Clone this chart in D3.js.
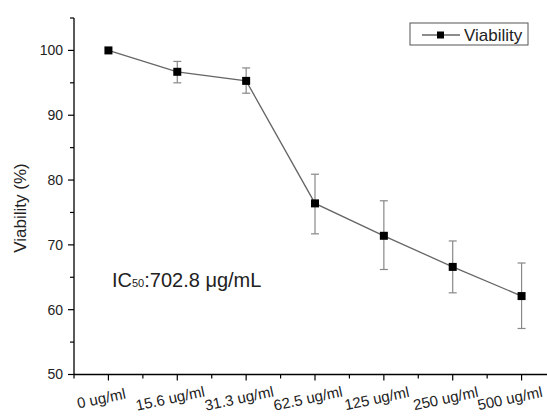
<!DOCTYPE html>
<html><head><meta charset="utf-8">
<script src="https://cdn.jsdelivr.net/npm/d3@7"></script>
<style>body{margin:0;background:#fff;}svg{display:block;font-family:"Liberation Sans",Arial,sans-serif;}</style>
</head><body>
<svg id="c" width="547" height="417"></svg>
<script>
const categories = ["0 ug/ml","15.6 ug/ml","31.3 ug/ml","62.5 ug/ml","125 ug/ml","250 ug/ml","500 ug/ml"];
const viability = [100, 96.7, 95.3, 76.4, 71.4, 66.6, 62.1];
const errUpper = [100, 98.3, 97.3, 80.9, 76.8, 70.6, 67.2];
const errLower = [100, 95.0, 93.4, 71.7, 66.2, 62.6, 57.1];
const yTicks = [50, 60, 70, 80, 90, 100];
const seriesName = "Viability";
const yTitle = "Viability (%)";

const svg = d3.select("#c");
const x = d3.scaleLinear().domain([-0.5, 6.5]).range([74, 556]);
const y = d3.scaleLinear().domain([50, 105]).range([374.5, 18]);

// y axis
const yAxis = svg.append("g").attr("transform","translate(74,0)");
yAxis.append("line").attr("x1",0).attr("x2",0).attr("y1",y(105)).attr("y2",y(50)).attr("stroke","#000").attr("stroke-width",1.3);
d3.range(50, 106, 5).forEach(v => {
  const major = v % 10 === 0;
  yAxis.append("line").attr("x1", major ? -6 : -4).attr("x2",0).attr("y1",y(v)).attr("y2",y(v)).attr("stroke","#000").attr("stroke-width",1.2);
});
yTicks.forEach(v => {
  yAxis.append("text").attr("x",-11).attr("y",y(v)).attr("dy","0.35em").attr("text-anchor","end").attr("font-size",14).attr("fill","#222").text(v);
});

// x axis
const xAxis = svg.append("g");
xAxis.append("line").attr("x1",74).attr("x2",547).attr("y1",y(50)).attr("y2",y(50)).attr("stroke","#000").attr("stroke-width",1.3);
for (let i = -0.5; i <= 6.5; i += 0.5) {
  const major = Number.isInteger(i);
  xAxis.append("line").attr("x1",x(i)).attr("x2",x(i)).attr("y1",y(50)).attr("y2",y(50)+(major?6:4)).attr("stroke","#000").attr("stroke-width",1.2);
}
categories.forEach((c,i) => {
  const cx = Math.min(x(i)-6, 511);
  xAxis.append("text").attr("transform",`translate(${cx},${y(50)+29}) rotate(-12)`).attr("text-anchor","middle").attr("font-size",15).attr("fill","#222").text(c);
});

// y title
svg.append("text").attr("transform",`translate(26,208) rotate(-90)`).attr("text-anchor","middle").attr("font-size",17).attr("fill","#222").text(yTitle);

// error bars
const eb = svg.append("g").attr("stroke","#888").attr("stroke-width",1.2);
categories.forEach((c,i) => {
  if (errUpper[i] === errLower[i]) return;
  eb.append("line").attr("x1",x(i)).attr("x2",x(i)).attr("y1",y(errUpper[i])).attr("y2",y(errLower[i]));
  [errUpper[i], errLower[i]].forEach(v => eb.append("line").attr("x1",x(i)-4).attr("x2",x(i)+4).attr("y1",y(v)).attr("y2",y(v)));
});

// line
svg.append("path").datum(viability).attr("fill","none").attr("stroke","#666").attr("stroke-width",1.3)
  .attr("d", d3.line().x((d,i)=>x(i)).y(d=>y(d)));

// markers
svg.append("g").selectAll("rect").data(viability).join("rect")
  .attr("x",(d,i)=>x(i)-4).attr("y",d=>y(d)-4).attr("width",8).attr("height",8).attr("fill","#000");

// legend
const lg = svg.append("g");
lg.append("rect").attr("x",410).attr("y",23).attr("width",118).attr("height",22).attr("fill","#fff").attr("stroke","#555").attr("stroke-width",1);
lg.append("line").attr("x1",422).attr("x2",460).attr("y1",35).attr("y2",35).attr("stroke","#666").attr("stroke-width",1.3);
lg.append("rect").attr("x",437).attr("y",31.5).attr("width",7).attr("height",7).attr("fill","#000");
lg.append("text").attr("x",464).attr("y",41).attr("font-size",17).attr("fill","#222").text(seriesName);

// IC50 annotation
const ic = svg.append("text").attr("x",112).attr("y",287).attr("font-size",20).attr("fill","#222");
ic.append("tspan").text("IC");
ic.append("tspan").attr("font-size",11).text("50");
ic.append("tspan").text(":702.8 μg/mL");
</script>
</body></html>
